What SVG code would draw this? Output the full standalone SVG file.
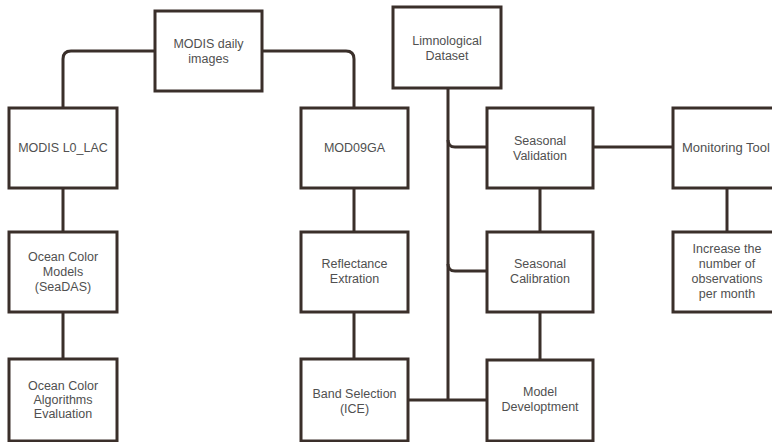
<svg xmlns="http://www.w3.org/2000/svg" width="772" height="442" viewBox="0 0 772 442">
<style>
.b{fill:#fff;stroke:#3a2f2a;stroke-width:3}
.c{fill:none;stroke:#3a2f2a;stroke-width:3}
text{font-family:"Liberation Sans",Arial,sans-serif;font-size:12.5px;fill:#505050;text-anchor:middle}
</style>
<rect width="772" height="442" fill="#fff"/>
<g id="connectors">
<path class="c" d="M155,51 L71,51 Q63,51 63,59 L63,108"/>
<path class="c" d="M262,51 L346,51 Q354,51 354,59 L354,108"/>
<path class="c" d="M63,188 L63,232 M63,312 L63,359"/>
<path class="c" d="M354,188 L354,232 M354,312 L354,359"/>
<path class="c" d="M448,88 L448,400"/>
<path class="c" d="M448,140 Q448,147 455,147 L487,147"/>
<path class="c" d="M448,264 Q448,271 455,271 L487,271"/>
<path class="c" d="M408,400 L487,400"/>
<path class="c" d="M593,147 L673,147"/>
<path class="c" d="M540,188 L540,232 M540,312 L540,360"/>
<path class="c" d="M727,188 L727,232"/>
</g>
<g id="modis-daily"><rect class="b" x="155" y="11" width="107" height="80"/><text x="208.5" y="48">MODIS daily</text><text x="208.5" y="63">images</text></g>
<g id="modis-l0"><rect class="b" x="9" y="108" width="108" height="80"/><text x="63" y="152">MODIS L0_LAC</text></g>
<g id="mod09ga"><rect class="b" x="301" y="108" width="107" height="80"/><text x="354.5" y="152">MOD09GA</text></g>
<g id="limno"><rect class="b" x="393" y="7" width="108" height="81"/><text x="447" y="45">Limnological</text><text x="447" y="60">Dataset</text></g>
<g id="seas-val"><rect class="b" x="487" y="108" width="106" height="80"/><text x="540" y="145">Seasonal</text><text x="540" y="160">Validation</text></g>
<g id="monitor"><rect class="b" x="673" y="108" width="108" height="80"/><text x="682" y="152" style="text-anchor:start;font-size:13px">Monitoring Tool</text></g>
<g id="ocean-models"><rect class="b" x="9" y="232" width="108" height="80"/><text x="63" y="261">Ocean Color</text><text x="63" y="276">Models</text><text x="63" y="291">(SeaDAS)</text></g>
<g id="reflect"><rect class="b" x="301" y="232" width="107" height="80"/><text x="354.5" y="268">Reflectance</text><text x="354.5" y="283">Extration</text></g>
<g id="seas-cal"><rect class="b" x="487" y="232" width="106" height="80"/><text x="540" y="268">Seasonal</text><text x="540" y="283">Calibration</text></g>
<g id="increase"><rect class="b" x="673" y="232" width="108" height="80"/><text x="727" y="253">Increase the</text><text x="727" y="268">number of</text><text x="727" y="283">observations</text><text x="727" y="298">per month</text></g>
<g id="ocean-eval"><rect class="b" x="9" y="359" width="108" height="82"/><text x="63" y="390">Ocean Color</text><text x="63" y="404">Algorithms</text><text x="63" y="418">Evaluation</text></g>
<g id="band"><rect class="b" x="301" y="359" width="107" height="82"/><text x="354.5" y="398">Band Selection</text><text x="354.5" y="413">(ICE)</text></g>
<g id="model-dev"><rect class="b" x="487" y="360" width="106" height="81"/><text x="540" y="396">Model</text><text x="540" y="411">Developtment</text></g>
</svg>
